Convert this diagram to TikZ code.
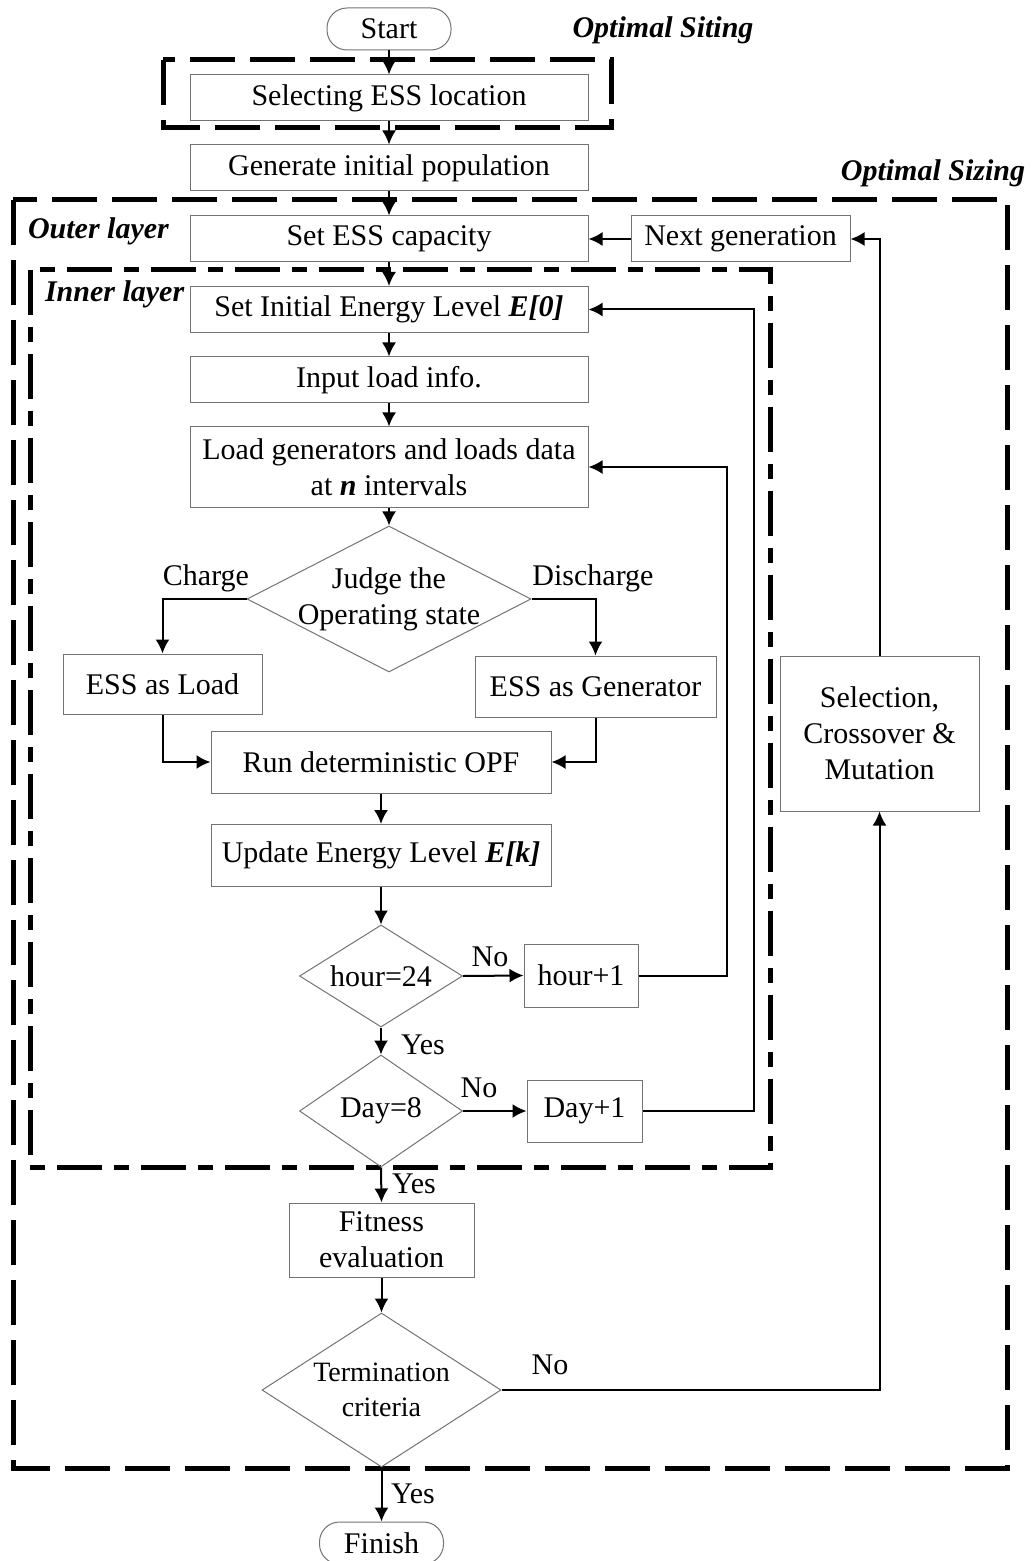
\documentclass[tikz,border=0pt]{standalone}
\usepackage{fontspec}
\setmainfont{Liberation Serif}
\usetikzlibrary{positioning,arrows.meta,shapes.geometric}

\begin{document}
\begin{tikzpicture}[x=0.5pt,y=-0.5pt,
font=\fontsize{15}{18}\selectfont,
procnode/.style={rectangle, draw=black!55, line width=0.5pt, inner sep=1pt, align=center, minimum width=199pt, minimum height=23pt},
decnode/.style={diamond, draw=black!55, line width=0.5pt, inner sep=0pt},
decnote/.style={align=center},
termnode/.style={rectangle, rounded corners=10pt, draw=black!55, line width=0.5pt, minimum width=62pt, minimum height=21pt},
flow/.style={->, line width=1pt},
zone/.style={line width=2.5pt, dash pattern=on 22.5pt off 7.5pt},
subzone/.style={line width=2.5pt, dash pattern=on 22.5pt off 6pt on 7.5pt off 6pt},
tag/.style={font=\fontsize{15}{18}\selectfont\bfseries\itshape},
>={Latex[length=7pt,width=7pt]}
]
\useasboundingbox (0,0) rectangle (1032,1561);
%%% Zones
\draw[zone] (163,60) rectangle (611,128);
\draw[zone] (13,200) rectangle (1007,1468);
\draw[subzone] (30,270) rectangle (770,1167);
\node[tag] (siting) at (663,30) {Optimal Siting};
\node[tag] (sizing) at (933,173) {Optimal Sizing};
\node[tag, anchor=west] (outer) at (21,231) {Outer layer};
\node[tag, anchor=west] (inner) at (38,294) {Inner layer};
%%% Nodes
\node[termnode] (start) at (389,29) {Start};
\node[procnode] (locate) at (389,98) {Selecting ESS location};
\node[procnode] (init) at (389,168) {Generate initial population};
\node[procnode] (cap) at (389,239) {Set ESS capacity};
\node[procnode, minimum width=109.5pt] (nextgen) at (740.5,239) {Next generation};
\node[procnode] (setlevel) at (389,309.5) {Set Initial Energy Level \textbf{\textit{E[0]}}};
\node[procnode] (load) at (389,380) {Input load info.};
\node[procnode, minimum height=40pt] (data) at (389,467) {Load generators and loads data\\at \textbf{\textit{n}} intervals};
\node[decnode, minimum width=142pt, minimum height=73pt] (judge) at (389,599) {};
\node[decnote] (judgetext) at (judge) {Judge the\\Operating state};
\node[procnode, minimum width=99.5pt, minimum height=30pt] (essload) at (162.5,684) {ESS as Load};
\node[procnode, minimum width=120.5pt, minimum height=30.5pt] (essgen) at (595.5,686.5) {ESS as Generator};
\node[procnode, minimum width=170pt, minimum height=31pt] (opf) at (381,762) {Run deterministic OPF};
\node[procnode, minimum width=170pt, minimum height=31pt] (update) at (381,855.5) {Update Energy Level \textbf{\textit{E[k]}}};
\node[decnode, minimum width=81.5pt, minimum height=51pt] (hour) at (381,976) {};
\node[decnote] (hourtext) at (hour) {hour=24};
\node[procnode, minimum width=57pt, minimum height=31.5pt] (hourinc) at (581,975.5) {hour+1};
\node[decnode, minimum width=81.5pt, minimum height=56pt] (day) at (381,1111) {};
\node[decnote] (daytext) at (day) {Day=8};
\node[procnode, minimum width=57.5pt, minimum height=31pt] (dayinc) at (584.5,1111) {Day+1};
\node[procnode, minimum width=92.5pt, minimum height=37pt] (fitness) at (381.5,1240) {Fitness\\evaluation};
\node[decnode, minimum width=119.5pt, minimum height=77pt] (term) at (381.5,1390) {};
\node[decnote, font=\fontsize{14}{17.5}\selectfont] (termtext) at (term) {Termination\\criteria};
\node[procnode, minimum width=99.5pt, minimum height=77.5pt] (select) at (879.5,733.5) {Selection,\\Crossover \&\\Mutation};
\node[termnode] (finish) at (381.5,1543) {Finish};
%%% Labels
\node (charge) at (206,578) {Charge};
\node (discharge) at (593,578) {Discharge};
\node (no1) at (490,957) {No};
\node (yes1) at (423,1045) {Yes};
\node (no2) at (479,1088) {No};
\node (yes2) at (414,1184) {Yes};
\node (no3) at (550,1365) {No};
\node (yes3) at (413,1494) {Yes};
%% Lines
\draw[flow] (start) -- (locate);
\draw[flow] (locate) -- (init);
\draw[flow] (init) -- (cap);
\draw[flow] (cap) -- (setlevel);
\draw[flow] (setlevel) -- (load);
\draw[flow] (load) -- (data);
\draw[flow] (data) -- (judge);
\draw[flow] (judge.west) -| (essload.north);
\draw[flow] (judge.east) -| (essgen.north);
\draw[flow] (essload.south) |- (opf.west);
\draw[flow] (essgen.south) |- (opf.east);
\draw[flow] (opf) -- (update);
\draw[flow] (update) -- (hour);
\draw[flow] (hour.east) -- (hourinc.west);
\draw[flow] (hourinc.east) -- ++(88,0) |- (data.east);
\draw[flow] (hour.south) -- (day.north);
\draw[flow] (day.east) -- (dayinc.west);
\draw[flow] (dayinc.east) -- ++(111,0) |- (setlevel.east);
\draw[flow] (day.south) -- (fitness.north);
\draw[flow] (fitness) -- (term);
\draw[flow] (term.east) -| (select.south);
\draw[flow] (select.north) |- (nextgen.east);
\draw[flow] (nextgen) -- (cap);
\draw[flow] (term.south) -- (finish.north);
\end{tikzpicture}
\end{document}
